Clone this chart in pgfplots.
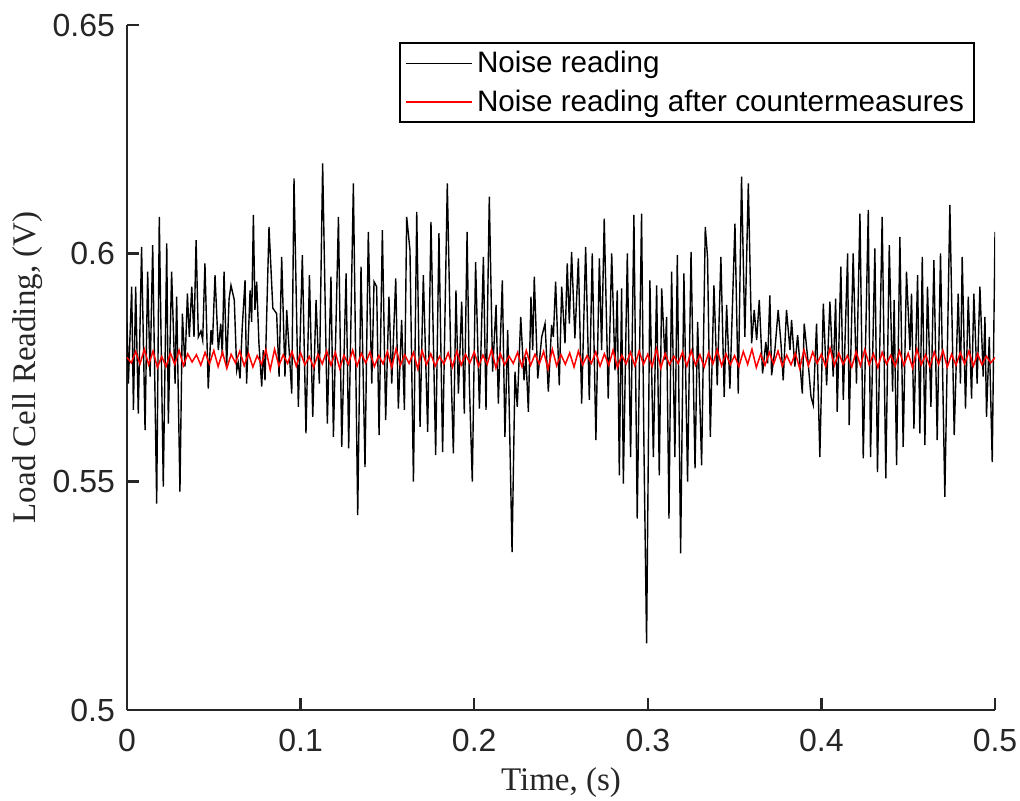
\documentclass[border=0pt]{standalone}
\usepackage{fontspec}
\setmainfont{Liberation Serif}
\setsansfont{Liberation Sans}
\usepackage{pgfplots}
\pgfplotsset{compat=1.18}
\usepackage{pgfplotstable}
\definecolor{axgray}{RGB}{38,38,38}

\pgfplotstableread{
t v
0.0000 0.5850
0.0008 0.5715
0.0027 0.5927
0.0037 0.5657
0.0050 0.5927
0.0065 0.5649
0.0084 0.6014
0.0104 0.5613
0.0119 0.5960
0.0133 0.5730
0.0148 0.6018
0.0171 0.5452
0.0186 0.6080
0.0209 0.5489
0.0229 0.6022
0.0238 0.5627
0.0257 0.5960
0.0277 0.5715
0.0286 0.5905
0.0305 0.5478
0.0319 0.5868
0.0334 0.5752
0.0348 0.5912
0.0359 0.5817
0.0373 0.5927
0.0386 0.5817
0.0398 0.6029
0.0411 0.5817
0.0426 0.5830
0.0436 0.5810
0.0449 0.5978
0.0468 0.5704
0.0484 0.5832
0.0492 0.5800
0.0507 0.5952
0.0526 0.5788
0.0540 0.5846
0.0549 0.5775
0.0559 0.5960
0.0574 0.5752
0.0588 0.5900
0.0599 0.5930
0.0618 0.5898
0.0632 0.5744
0.0641 0.5760
0.0651 0.5726
0.0664 0.5839
0.0680 0.5941
0.0689 0.5715
0.0709 0.5919
0.0718 0.5850
0.0728 0.6084
0.0737 0.5876
0.0747 0.5938
0.0760 0.5803
0.0776 0.5708
0.0785 0.5788
0.0795 0.5722
0.0818 0.6058
0.0840 0.5880
0.0862 0.5868
0.0876 0.5730
0.0891 0.5992
0.0910 0.5730
0.0920 0.5876
0.0949 0.5693
0.0962 0.6164
0.0987 0.5664
0.1010 0.5996
0.1031 0.5606
0.1051 0.5952
0.1070 0.5642
0.1089 0.5898
0.1108 0.5715
0.1127 0.6197
0.1154 0.5627
0.1175 0.5949
0.1189 0.5598
0.1218 0.6080
0.1237 0.5576
0.1262 0.5956
0.1277 0.5573
0.1304 0.6153
0.1329 0.5427
0.1348 0.5971
0.1371 0.5532
0.1390 0.6047
0.1410 0.5715
0.1423 0.5938
0.1438 0.5927
0.1452 0.5602
0.1471 0.6051
0.1490 0.5635
0.1509 0.5905
0.1525 0.5715
0.1548 0.5945
0.1563 0.5660
0.1582 0.5854
0.1598 0.5657
0.1611 0.6080
0.1630 0.6007
0.1650 0.5500
0.1669 0.6091
0.1688 0.5620
0.1707 0.5952
0.1732 0.5609
0.1751 0.6069
0.1778 0.5558
0.1797 0.6044
0.1818 0.5565
0.1845 0.6153
0.1866 0.5752
0.1880 0.5562
0.1895 0.5919
0.1909 0.5693
0.1928 0.5894
0.1943 0.5649
0.1959 0.6047
0.1972 0.5715
0.1989 0.5500
0.2008 0.5981
0.2030 0.5660
0.2053 0.5992
0.2068 0.5657
0.2087 0.6124
0.2106 0.5741
0.2126 0.5887
0.2139 0.5671
0.2162 0.5941
0.2177 0.5598
0.2193 0.5832
0.2218 0.5346
0.2235 0.5741
0.2248 0.5664
0.2268 0.5861
0.2287 0.5722
0.2298 0.5773
0.2312 0.5653
0.2327 0.5905
0.2337 0.5788
0.2346 0.5949
0.2366 0.5726
0.2389 0.5817
0.2408 0.5846
0.2427 0.5697
0.2446 0.5843
0.2456 0.5817
0.2469 0.5938
0.2490 0.5711
0.2504 0.5927
0.2523 0.5803
0.2536 0.5978
0.2548 0.5846
0.2561 0.6003
0.2580 0.5814
0.2600 0.5989
0.2619 0.5671
0.2642 0.6014
0.2663 0.5679
0.2680 0.6000
0.2701 0.5591
0.2721 0.5989
0.2734 0.5788
0.2749 0.6076
0.2772 0.5682
0.2792 0.6000
0.2811 0.5744
0.2824 0.5919
0.2836 0.5514
0.2849 0.5923
0.2859 0.5496
0.2882 0.6000
0.2901 0.5554
0.2920 0.6084
0.2939 0.5419
0.2964 0.6087
0.2978 0.5569
0.2993 0.5146
0.3012 0.5941
0.3032 0.5554
0.3051 0.5930
0.3066 0.5514
0.3080 0.5923
0.3099 0.5766
0.3108 0.5861
0.3122 0.5419
0.3137 0.5960
0.3156 0.5554
0.3170 0.5996
0.3189 0.5343
0.3208 0.5956
0.3229 0.5500
0.3249 0.6003
0.3272 0.5529
0.3287 0.5850
0.3310 0.5536
0.3331 0.6058
0.3344 0.5992
0.3360 0.5598
0.3381 0.5930
0.3400 0.5711
0.3421 0.5992
0.3440 0.5686
0.3454 0.5887
0.3473 0.5704
0.3502 0.6065
0.3521 0.5693
0.3540 0.6168
0.3559 0.5817
0.3579 0.6153
0.3598 0.5803
0.3613 0.5876
0.3627 0.5810
0.3642 0.5898
0.3661 0.5737
0.3680 0.5806
0.3690 0.5759
0.3703 0.5908
0.3713 0.5733
0.3732 0.5788
0.3751 0.5876
0.3767 0.5803
0.3780 0.5722
0.3799 0.5876
0.3819 0.5788
0.3828 0.5854
0.3847 0.5752
0.3863 0.5821
0.3890 0.5693
0.3901 0.5846
0.3924 0.5759
0.3940 0.5686
0.3953 0.5668
0.3972 0.5846
0.3991 0.5554
0.4011 0.5890
0.4030 0.5711
0.4049 0.5894
0.4068 0.5730
0.4082 0.5901
0.4091 0.5653
0.4112 0.5971
0.4126 0.5679
0.4151 0.6000
0.4160 0.5624
0.4183 0.6000
0.4202 0.5715
0.4222 0.6087
0.4241 0.5551
0.4270 0.6095
0.4283 0.5554
0.4308 0.6011
0.4323 0.5521
0.4350 0.6080
0.4371 0.5507
0.4391 0.6018
0.4410 0.5697
0.4419 0.5898
0.4433 0.5536
0.4452 0.6036
0.4471 0.5576
0.4490 0.5960
0.4510 0.5788
0.4519 0.5912
0.4533 0.5616
0.4554 0.5952
0.4567 0.5606
0.4581 0.5992
0.4596 0.5580
0.4611 0.5927
0.4631 0.5664
0.4648 0.5985
0.4667 0.5591
0.4686 0.6000
0.4711 0.5467
0.4740 0.6106
0.4765 0.5602
0.4788 0.5912
0.4801 0.5715
0.4811 0.5992
0.4830 0.5660
0.4846 0.5905
0.4865 0.5682
0.4878 0.5912
0.4897 0.5715
0.4913 0.5927
0.4932 0.5730
0.4942 0.5861
0.4951 0.5642
0.4967 0.5817
0.4984 0.5543
0.5000 0.6047
}\noisetable

\pgfplotstableread{
v
0.5772
0.5760
0.5785
0.5758
0.5790
0.5756
0.5786
0.5750
0.5774
0.5752
0.5782
0.5757
0.5788
0.5754
0.5780
0.5762
0.5778
0.5755
0.5783
0.5758
0.5787
0.5752
0.5784
0.5748
0.5779
0.5760
0.5786
0.5754
0.5781
0.5751
0.5776
0.5757
0.5789
0.5745
0.5790
0.5754
0.5778
0.5759
0.5785
0.5753
0.5782
0.5756
0.5774
0.5750
0.5779
0.5758
0.5786
0.5755
0.5783
0.5748
0.5777
0.5757
0.5788
0.5753
0.5781
0.5760
0.5784
0.5752
0.5776
0.5758
0.5785
0.5750
0.5791
0.5755
0.5778
0.5759
0.5783
0.5747
0.5787
0.5756
0.5780
0.5753
0.5774
0.5758
0.5782
0.5751
0.5786
0.5755
0.5779
0.5760
0.5784
0.5753
0.5777
0.5757
0.5789
0.5749
0.5781
0.5756
0.5775
0.5759
0.5783
0.5752
0.5787
0.5755
0.5779
0.5758
0.5785
0.5746
0.5790
0.5754
0.5778
0.5757
0.5782
0.5751
0.5786
0.5756
0.5776
0.5759
0.5784
0.5753
0.5780
0.5755
0.5788
0.5750
0.5777
0.5758
0.5783
0.5754
0.5786
0.5757
0.5779
0.5752
0.5791
0.5749
0.5781
0.5756
0.5775
0.5759
0.5784
0.5753
0.5787
0.5755
0.5778
0.5751
0.5782
0.5758
0.5789
0.5754
0.5780
0.5756
0.5776
0.5752
0.5785
0.5757
0.5790
0.5750
0.5779
0.5755
0.5783
0.5758
0.5786
0.5753
0.5777
0.5756
0.5781
0.5748
0.5788
0.5754
0.5784
0.5759
0.5779
0.5752
0.5792
0.5755
0.5782
0.5757
0.5776
0.5751
0.5785
0.5754
0.5789
0.5756
0.5780
0.5750
0.5783
0.5758
0.5777
0.5753
0.5786
0.5755
0.5781
0.5749
0.5790
0.5756
0.5778
0.5752
0.5784
0.5757
0.5787
0.5751
0.5779
0.5755
0.5783
0.5758
0.5786
0.5753
0.5780
0.5756
0.5775
0.5760
0.5772
}\redtable

\begin{document}
\begin{tikzpicture}
\begin{axis}[
  at={(0,0)}, anchor=south west, scale only axis,
  width=434pt, height=342.5pt,
  xmin=0, xmax=0.5, ymin=0.5, ymax=0.65,
  axis lines=left,
  axis line style={-, line width=1.2pt, draw=axgray},
  tick align=inside, major tick length=6pt,
  tick style={line width=1.2pt, draw=axgray},
  xtick={0,0.1,0.2,0.3,0.4,0.5},
  xticklabels={0,0.1,0.2,0.3,0.4,0.5},
  ytick={0.5,0.55,0.6,0.65},
  yticklabels={0.5,0.55,0.6,0.65},
  ticklabel style={font=\sffamily\fontsize{16}{18}\selectfont, text=axgray},
  xticklabel style={yshift=-6pt},
  yticklabel shift=2.5pt,
  xlabel={Time, (s)},
  ylabel={Load Cell Reading, (V)},
  label style={font=\rmfamily\fontsize{16.5}{19}\selectfont, text=axgray},
  xlabel style={yshift=-1pt},
  ylabel shift=-2pt,
  legend style={at={(0.977,0.975)}, anchor=north east, draw, line width=1pt,
    font=\sffamily\fontsize{14.8}{17}\selectfont, inner xsep=3pt, inner ysep=2pt,
    row sep=3pt, cells={anchor=west}},
]
\addplot[black, line width=0.7pt, forget plot] table[x=t, y=v] {\noisetable};
\addplot[red, line width=0.75pt, forget plot] table[x expr=\coordindex*0.0025, y=v] {\redtable};
\addlegendimage{legend image code/.code={\draw[black, line width=0.7pt] (0pt,0pt) -- (33pt,0pt);}}
\addlegendentry{Noise reading}
\addlegendimage{legend image code/.code={\draw[red, line width=0.75pt] (0pt,0pt) -- (33pt,0pt);}}
\addlegendentry{Noise reading after countermeasures}
\end{axis}
\pgfresetboundingbox
\useasboundingbox (-63.5pt,-45pt) rectangle (446.5pt,355pt);
\end{tikzpicture}
\end{document}
